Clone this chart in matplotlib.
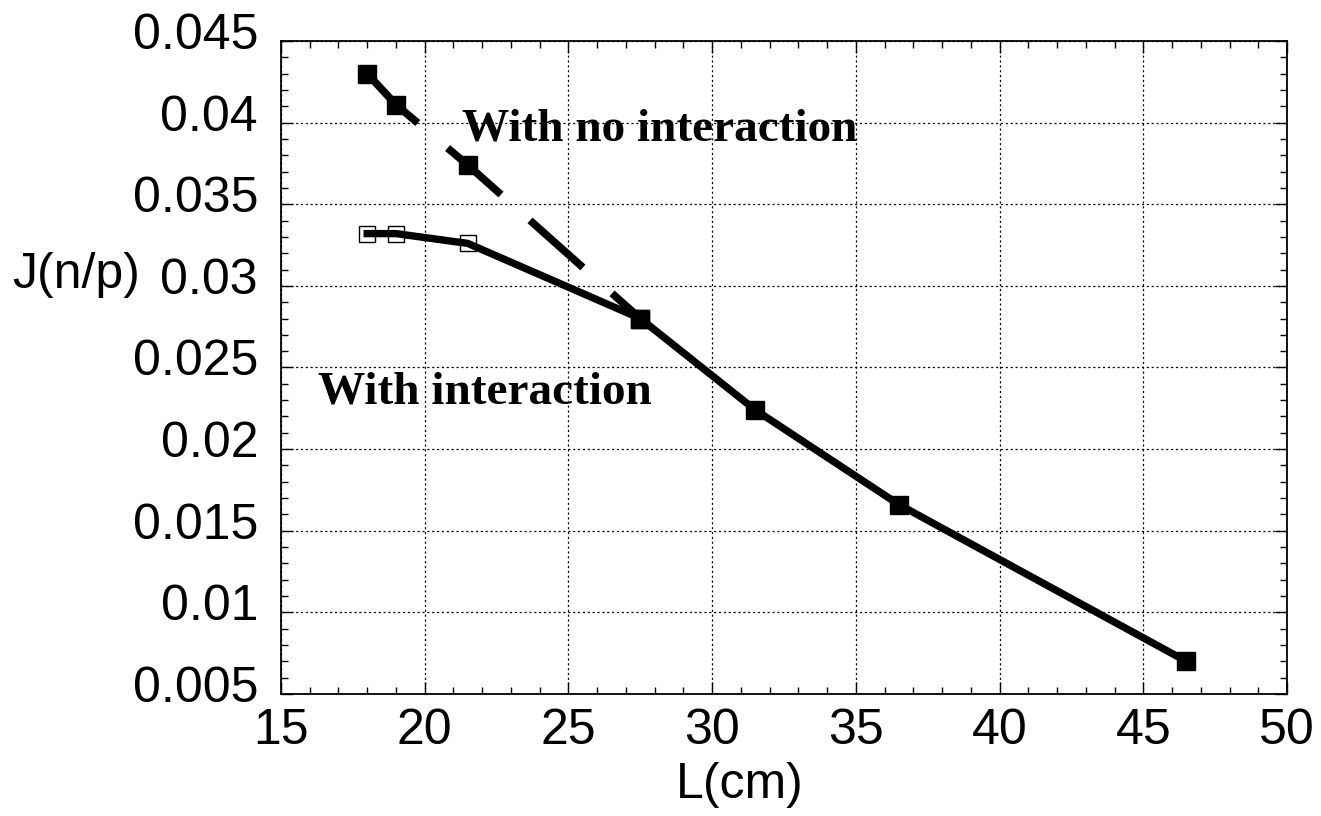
import matplotlib
matplotlib.use('Agg')
import matplotlib.pyplot as plt
import matplotlib.transforms as mtransforms
from matplotlib.ticker import MultipleLocator

# values
L_no_int = [18, 19, 21.5, 27.5]
J_no_int = [0.0430, 0.0411, 0.0374, 0.0280]

L_int_open = [18, 19, 21.5]
J_int_open = [0.0332, 0.0332, 0.0326]

L_shared = [27.5, 31.5, 36.5, 46.5]
J_shared = [0.0280, 0.0224, 0.0166, 0.0070]

x_ticks = [15, 20, 25, 30, 35, 40, 45, 50]
y_ticks = [0.005, 0.01, 0.015, 0.02, 0.025, 0.03, 0.035, 0.04, 0.045]
y_tick_labels = ['0.005', '0.01', '0.015', '0.02', '0.025', '0.03', '0.035', '0.04', '0.045']

plt.rcParams['font.family'] = ['Liberation Sans', 'DejaVu Sans']
plt.rcParams['lines.scale_dashes'] = False

fig = plt.figure(figsize=(13.21, 8.16), dpi=100)
ax = fig.add_axes([0.2127, 0.1495, 0.7616, 0.8003])

# with interaction: solid line through open squares then shared points
ax.plot(L_int_open + L_shared, J_int_open + J_shared, color='black', lw=5.3,
        solid_joinstyle='round', zorder=3)
# with no interaction: long dashes
ax.plot(L_no_int, J_no_int, color='black', lw=5.5, dashes=(51, 28),
        dash_capstyle='butt', zorder=3)

ax.plot(L_int_open, J_int_open, ls='none', marker='s', ms=12, mfc='none',
        mec='black', mew=1.0, zorder=4)
ax.plot(L_no_int, J_no_int, ls='none', marker='s', ms=13, color='black', zorder=4)
ax.plot(L_shared, J_shared, ls='none', marker='s', ms=13, color='black', zorder=4)

ax.text(21.3, 0.0389, 'With no interaction', family='Liberation Serif',
        weight='bold', fontsize=34, ha='left', va='baseline')
ax.text(16.3, 0.0228, 'With interaction', family='Liberation Serif',
        weight='bold', fontsize=34, ha='left', va='baseline')

ax.set_xlim(15, 50)
ax.set_ylim(0.005, 0.045)
ax.set_xticks(x_ticks)
ax.set_yticks(y_ticks)
ax.set_yticklabels(y_tick_labels)
ax.xaxis.set_minor_locator(MultipleLocator(1))
ax.yaxis.set_minor_locator(MultipleLocator(0.001))

ax.tick_params(which='both', direction='in', top=True, right=True, width=1.0)
ax.tick_params(which='major', length=8.5, labelsize=36)
ax.tick_params(which='minor', length=5)
ax.tick_params(axis='x', pad=10)
ax.tick_params(axis='y', pad=16.5)

ax.grid(True, which='major', color='black', linestyle=(0, (1.5, 2)), linewidth=0.9)
ax.set_axisbelow(True)
for sp in ax.spines.values():
    sp.set_linewidth(1.3)

# y tick labels sit a bit above their ticks in the original
offset = mtransforms.ScaledTranslation(0, 10 / 100, fig.dpi_scale_trans)
for lab in ax.yaxis.get_majorticklabels():
    lab.set_transform(lab.get_transform() + offset)

fig.text(140 / 1321, 1 - 275 / 816, 'J(n/p)', fontsize=36, ha='right', va='center')
fig.text(740 / 1321, 1 - 798 / 816, 'L(cm)', fontsize=36, ha='center', va='baseline')

fig.savefig('out.png', dpi=100, facecolor='white')
